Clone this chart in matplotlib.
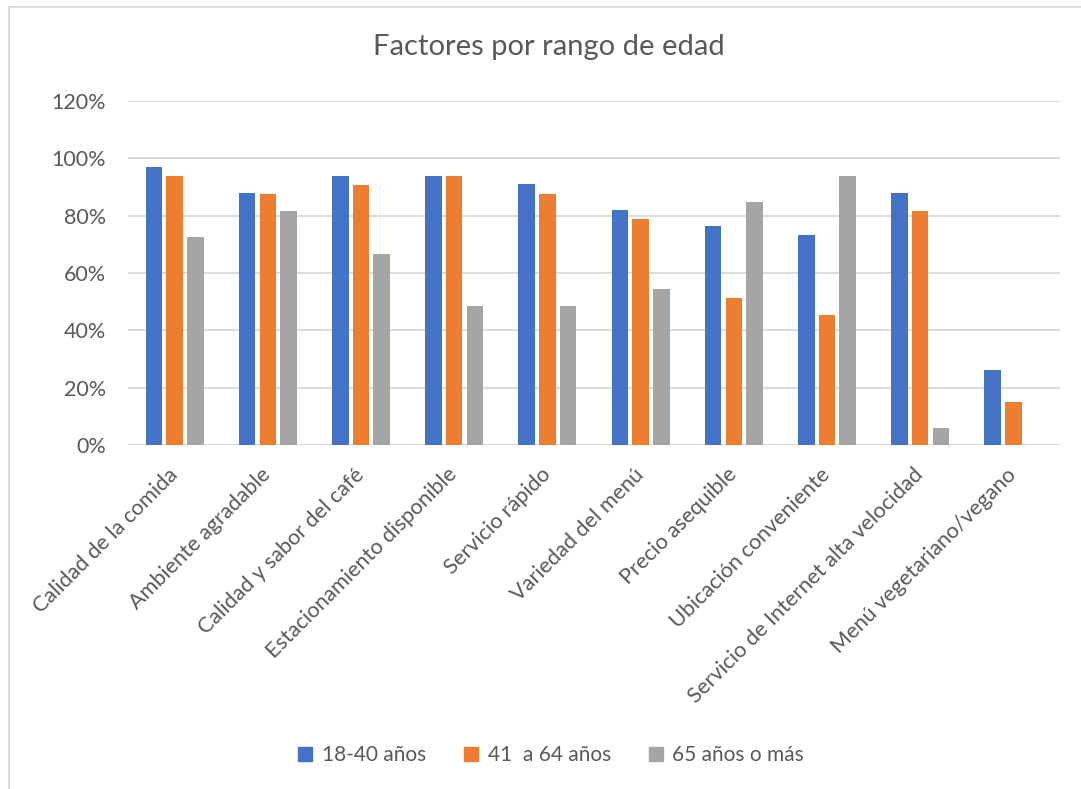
import numpy as np
import matplotlib.pyplot as plt
from matplotlib.lines import Line2D

plt.rcParams['font.family'] = ['Lato', 'DejaVu Sans']

categorias = ['Calidad de la comida', 'Ambiente agradable', 'Calidad y sabor del café',
              'Estacionamiento disponible', 'Servicio rápido', 'Variedad del menú',
              'Precio asequible', 'Ubicación conveniente',
              'Servicio de Internet alta velocidad', 'Menú vegetariano/vegano']
series = ['18-40 años', '41  a 64 años', '65 años o más']
jovenes = [97, 88, 94, 94, 91, 82, 76.4, 73.2, 88, 26.3]
adultos = [94, 87.7, 90.8, 93.8, 87.7, 78.7, 51.4, 45.2, 81.8, 14.9]
mayores = [72.7, 81.8, 66.7, 48.4, 48.4, 54.4, 84.8, 93.8, 6, 0]
colores = ['#4472C4', '#ED7D31', '#A5A5A5']
texto = '#595959'

fig = plt.figure(figsize=(10.81, 7.89), dpi=100)
ax = fig.add_axes([128/1081, 1 - 445/789, (1060 - 128)/1081, (445 - 101)/789])

x = np.arange(len(categorias))
paso = 0.222
ancho = 0.178
for i, (vals, col) in enumerate(zip([jovenes, adultos, mayores], colores)):
    ax.bar(x + (i - 1) * paso, vals, width=ancho, color=col, zorder=3, label=series[i])

ax.set_xlim(-0.5, len(categorias) - 0.5)
ax.set_ylim(0, 120)
ax.set_yticks(np.arange(0, 121, 20))
ax.set_yticklabels([f'{v}%' for v in range(0, 121, 20)], color=texto, fontsize=15.5)
ax.set_xticks(x)
ax.set_xticklabels(categorias, rotation=45, ha='right', va='center', rotation_mode='anchor',
                   color=texto, fontsize=15.6)
ax.tick_params(length=0)
ax.tick_params(axis='y', pad=16)
ax.tick_params(axis='x', pad=19)
ax.grid(axis='y', color='#D9D9D9', linewidth=1.3, zorder=0)
for s in ax.spines.values():
    s.set_visible(False)

fig.text(549/1081, 1 - 47/789, 'Factores por rango de edad', ha='center', va='center',
         fontsize=21, color=texto)

handles = [Line2D([], [], marker='s', linestyle='none', markersize=9.5, color=c) for c in colores]
fig.legend(handles, series, loc='center', bbox_to_anchor=(551/1081, 1 - 755/789), ncol=3,
           frameon=False, fontsize=15, labelcolor=texto, handlelength=0.7,
           handletextpad=0.45, columnspacing=1.8)

# chart frame
fig.add_artist(Line2D([9/1081, 9/1081], [0, 1 - 7/789], color='#D9D9D9', linewidth=1.3))
fig.add_artist(Line2D([9/1081, 1], [1 - 7/789, 1 - 7/789], color='#D9D9D9', linewidth=1.3))

fig.savefig('out.png', dpi=100, facecolor='white')
